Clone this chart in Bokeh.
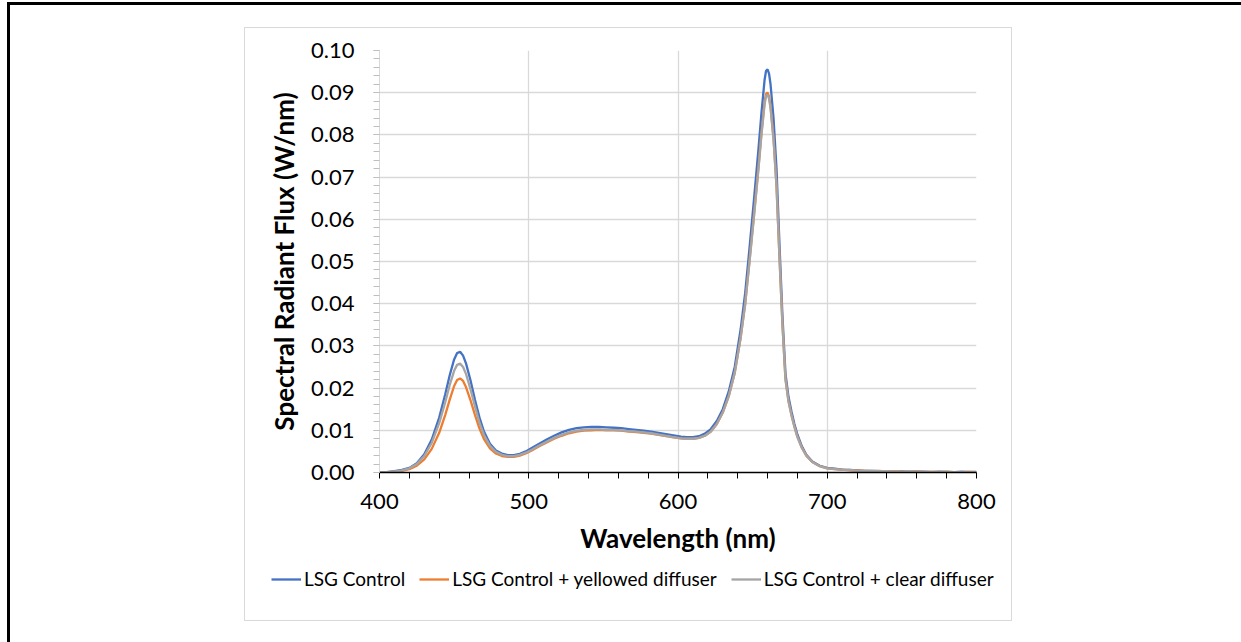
from bokeh.plotting import figure
from bokeh.layouts import column
from bokeh.models import (Range1d, FixedTicker, Legend, LegendItem,
                          ColumnDataSource, NumeralTickFormatter, InlineStyleSheet)
from bokeh.embed import file_html
from bokeh.resources import INLINE

# ---------------- data ----------------
wavelength = [400, 405, 410, 415, 420, 425, 430, 435, 440, 444, 447, 450, 452, 454, 456, 458,
              461, 464, 467, 470, 474, 478, 482, 486, 490, 494, 498, 502, 507, 512, 517, 522,
              527, 532, 537, 542, 547, 552, 557, 562, 567, 572, 577, 582, 587, 592, 597, 602,
              606, 610, 614, 618, 622, 626, 630, 634, 638, 642, 645, 648, 651, 654, 656, 658,
              659, 660, 661, 662, 664, 666, 668, 670, 672, 674, 676, 678, 680, 683, 686, 690,
              695, 700, 705, 710, 715, 720, 725, 730, 735, 740, 745, 750, 755, 760, 765, 770,
              775, 780, 785, 790, 795, 800]

lsg_control = [0.0000, 0.0001, 0.0003, 0.0006, 0.0011, 0.0022, 0.0043, 0.0078, 0.0130, 0.0185,
               0.0230, 0.0268, 0.0283, 0.0286, 0.0277, 0.0258, 0.0218, 0.0172, 0.0130, 0.0097,
               0.0068, 0.0052, 0.0045, 0.0041, 0.0041, 0.0044, 0.0050, 0.0058, 0.0068, 0.0078,
               0.0087, 0.0095, 0.0101, 0.0105, 0.0107, 0.0108, 0.0108, 0.0107, 0.0106, 0.0105,
               0.0103, 0.0101, 0.0099, 0.0097, 0.0094, 0.0091, 0.0088, 0.0085, 0.0084, 0.0084,
               0.0086, 0.0092, 0.0103, 0.0122, 0.0150, 0.0192, 0.0250, 0.0340, 0.0425, 0.0535,
               0.0650, 0.0770, 0.0855, 0.0930, 0.0952, 0.0955, 0.0945, 0.0920, 0.0840, 0.0720,
               0.0540, 0.0370, 0.0235, 0.0180, 0.0145, 0.0115, 0.0090, 0.0062, 0.0042, 0.0026,
               0.0016, 0.0011, 0.0009, 0.0007, 0.0006, 0.0005, 0.0004, 0.0004, 0.0003, 0.0003,
               0.0002, 0.0003, 0.0002, 0.0002, 0.0002, 0.0001, 0.0002, 0.0001, 0.0001, 0.0002,
               0.0001, 0.0001]

yellowed_diffuser = [0.0000, 0.0001, 0.0002, 0.0004, 0.0008, 0.0016, 0.0031, 0.0056, 0.0094, 0.0136,
                     0.0172, 0.0205, 0.0219, 0.0223, 0.0217, 0.0202, 0.0171, 0.0136, 0.0104, 0.0079,
                     0.0057, 0.0045, 0.0039, 0.0037, 0.0037, 0.0040, 0.0045, 0.0052, 0.0062, 0.0071,
                     0.0080, 0.0087, 0.0093, 0.0097, 0.0099, 0.0100, 0.0101, 0.0100, 0.0100, 0.0099,
                     0.0097, 0.0096, 0.0094, 0.0092, 0.0089, 0.0086, 0.0083, 0.0081, 0.0080, 0.0080,
                     0.0082, 0.0087, 0.0097, 0.0115, 0.0142, 0.0181, 0.0236, 0.0320, 0.0400, 0.0505,
                     0.0614, 0.0727, 0.0808, 0.0878, 0.0897, 0.0900, 0.0891, 0.0868, 0.0793, 0.0680,
                     0.0510, 0.0350, 0.0222, 0.0170, 0.0137, 0.0109, 0.0085, 0.0059, 0.0040, 0.0025,
                     0.0015, 0.0010, 0.0008, 0.0007, 0.0005, 0.0005, 0.0004, 0.0003, 0.0004, 0.0002,
                     0.0003, 0.0002, 0.0002, 0.0003, 0.0001, 0.0002, 0.0001, 0.0002, 0.0001, 0.0001,
                     0.0002, 0.0001]

clear_diffuser = [0.0000, 0.0001, 0.0002, 0.0005, 0.0010, 0.0020, 0.0039, 0.0070, 0.0117, 0.0166,
                  0.0207, 0.0241, 0.0255, 0.0258, 0.0250, 0.0233, 0.0197, 0.0156, 0.0118, 0.0089,
                  0.0063, 0.0049, 0.0042, 0.0039, 0.0039, 0.0042, 0.0047, 0.0054, 0.0064, 0.0073,
                  0.0082, 0.0089, 0.0095, 0.0099, 0.0101, 0.0102, 0.0102, 0.0101, 0.0101, 0.0100,
                  0.0098, 0.0097, 0.0095, 0.0093, 0.0090, 0.0087, 0.0084, 0.0081, 0.0080, 0.0080,
                  0.0082, 0.0087, 0.0097, 0.0115, 0.0142, 0.0181, 0.0236, 0.0320, 0.0398, 0.0502,
                  0.0610, 0.0722, 0.0803, 0.0872, 0.0892, 0.0895, 0.0886, 0.0863, 0.0789, 0.0676,
                  0.0507, 0.0348, 0.0221, 0.0169, 0.0136, 0.0108, 0.0084, 0.0058, 0.0040, 0.0025,
                  0.0015, 0.0010, 0.0008, 0.0006, 0.0006, 0.0004, 0.0004, 0.0004, 0.0003, 0.0003,
                  0.0002, 0.0002, 0.0003, 0.0002, 0.0002, 0.0001, 0.0002, 0.0002, 0.0001, 0.0001,
                  0.0001, 0.0002]

series_names = ["LSG Control", "LSG Control + yellowed diffuser", "LSG Control + clear diffuser"]
series_colors = ["#4472C4", "#ED7D31", "#A5A5A5"]
series_values = [lsg_control, yellowed_diffuser, clear_diffuser]

x_ticks = [400, 500, 600, 700, 800]
x_minor_ticks = [420, 440, 460, 480, 520, 540, 560, 580, 620, 640, 660, 680, 720, 740, 760, 780]
y_ticks = [0.00, 0.01, 0.02, 0.03, 0.04, 0.05, 0.06, 0.07, 0.08, 0.09, 0.10]
y_minor_ticks = [i * 0.002 for i in range(51)]

FONT = "Lato"

# ---------------- main chart ----------------
p = figure(width=1241, height=562, output_backend="svg", toolbar_location=None,
           x_range=Range1d(400, 800), y_range=Range1d(0, 0.1),
           min_border_left=379, min_border_right=265, min_border_top=50, min_border_bottom=90)
p.frame_align = False
p.outline_line_color = None
p.background_fill_color = "white"
p.border_fill_color = "white"

src = ColumnDataSource(dict(x=wavelength, a=lsg_control, b=yellowed_diffuser, c=clear_diffuser))
r1 = p.line("x", "a", source=src, line_color=series_colors[0], line_width=2.3)
r2 = p.line("x", "b", source=src, line_color=series_colors[1], line_width=2.3)
r3 = p.line("x", "c", source=src, line_color=series_colors[2], line_width=2.3)

xt = FixedTicker(ticks=x_ticks, minor_ticks=x_minor_ticks)
yt = FixedTicker(ticks=y_ticks, minor_ticks=y_minor_ticks)
p.xaxis.ticker = xt
p.yaxis.ticker = yt
p.xgrid.ticker = xt
p.ygrid.ticker = yt
p.yaxis.formatter = NumeralTickFormatter(format="0.00")

for ax in (p.xaxis[0], p.yaxis[0]):
    ax.major_label_text_font = FONT
    ax.major_label_text_font_size = "22px"
    ax.major_label_text_color = "#000000"
    ax.axis_label_text_font = FONT
    ax.axis_label_text_font_style = "bold"
    ax.axis_label_text_font_size = "26px"
    ax.axis_label_text_color = "#000000"
    ax.major_tick_in = 0
    ax.minor_tick_in = 0
    ax.major_tick_out = 6
    ax.minor_tick_out = 6

p.xaxis.axis_label = "Wavelength (nm)"
p.yaxis.axis_label = "Spectral Radiant Flux (W/nm)"
p.xaxis.axis_line_color = "#000000"
p.xaxis.major_tick_line_color = "#000000"
p.xaxis.minor_tick_line_color = "#000000"
p.xaxis.axis_line_width = 1.3
p.xaxis.major_label_standoff = 15
p.xaxis.axis_label_standoff = 10
p.yaxis.axis_line_color = "#d9d9d9"
p.yaxis.major_tick_line_color = "#bfbfbf"
p.yaxis.minor_tick_line_color = "#bfbfbf"
p.yaxis.major_label_standoff = 19
p.yaxis.axis_label_standoff = 8

p.xgrid.grid_line_color = "#d9d9d9"
p.ygrid.grid_line_color = "#d9d9d9"
p.xgrid.grid_line_width = 1.3
p.ygrid.grid_line_width = 1.3

# ---------------- legend strip (separate figure under the chart) ----------------
# legend proxies hold the real series but sit outside this strip's (0..1) ranges
lg = figure(width=1241, height=80, output_backend="svg", toolbar_location=None,
            x_axis_type=None, y_axis_type=None, x_range=Range1d(0, 1), y_range=Range1d(0, 1),
            min_border=0)
lg.frame_align = False
lg.outline_line_color = None
lg.xgrid.visible = False
lg.ygrid.visible = False
lr = [lg.line(x=wavelength, y=v, line_color=c, line_width=2.3)
      for v, c in zip(series_values, series_colors)]
legend = Legend(items=[LegendItem(label=n, renderers=[r]) for n, r in zip(series_names, lr)],
                orientation="horizontal", location=(271, 52),
                label_text_font=FONT, label_text_font_size="19px", label_text_color="#000000",
                glyph_width=30, glyph_height=22, label_standoff=3, spacing=14,
                padding=0, margin=0, border_line_color=None, background_fill_alpha=0)
lg.add_layout(legend, "center")

# page border (black, top/left) and chart-area frame (light grey), drawn with CSS
frame_css = InlineStyleSheet(css="""
:host::before {
  content: ""; position: absolute; z-index: 10; pointer-events: none;
  left: 7px; top: 2px; width: 1234px; height: 640px; box-sizing: border-box;
  border-left: 3px solid #000; border-top: 3px solid #000;
}
:host::after {
  content: ""; position: absolute; z-index: 10; pointer-events: none;
  left: 244px; top: 27px; width: 768px; height: 594px; box-sizing: border-box;
  border: 1.5px solid #d9d9d9;
}
""")

page = column(p, lg, spacing=0, stylesheets=[frame_css])

open("out.html", "w").write(file_html(page, INLINE))
